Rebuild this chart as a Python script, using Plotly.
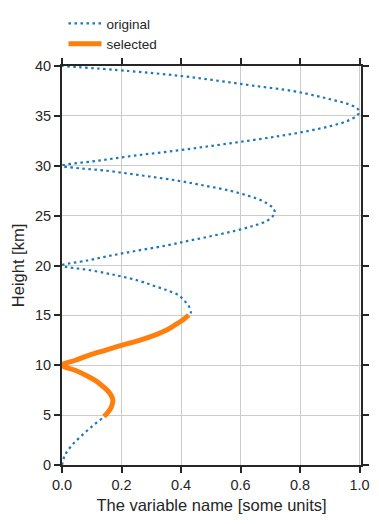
import plotly.graph_objects as go

# Height [km] and variable values
heights = [0.0, 1.0, 2.0, 3.0, 4.0, 4.85, 5.5, 6.0, 6.5, 7.0, 7.5, 8.0, 8.5, 9.0, 9.5, 10.0,
           10.5, 11.0, 11.5, 12.0, 12.5, 13.0, 13.5, 14.0, 14.5, 15.04, 15.3, 16.0, 16.5, 17.0,
           17.5, 18.0, 18.5, 19.0, 19.5, 20.0,
           20.5, 21.0, 21.5, 22.0, 22.5, 23.0, 23.5, 24.0, 24.5, 25.0, 25.4, 25.8, 26.2, 26.6,
           27.0, 27.5, 28.0, 28.5, 29.0, 29.5, 30.0,
           30.5, 31.0, 31.5, 32.0, 32.5, 33.0, 33.5, 34.0, 34.5, 35.0, 35.4, 35.8, 36.2, 36.6,
           37.0, 37.5, 38.0, 38.5, 39.0, 39.5, 40.0]
values = [0.0, 0.01, 0.034, 0.068, 0.106, 0.141, 0.160, 0.168, 0.171, 0.165, 0.152, 0.133, 0.110, 0.080, 0.044, 0.0,
          0.045, 0.09, 0.145, 0.20, 0.26, 0.31, 0.35, 0.378, 0.405, 0.426, 0.433, 0.425, 0.41, 0.393,
          0.355, 0.305, 0.255, 0.185, 0.10, 0.0,
          0.085, 0.165, 0.255, 0.35, 0.43, 0.51, 0.585, 0.645, 0.69, 0.71, 0.715, 0.708, 0.69, 0.665,
          0.625, 0.565, 0.48, 0.39, 0.275, 0.15, 0.0,
          0.12, 0.24, 0.38, 0.505, 0.625, 0.735, 0.83, 0.905, 0.96, 0.99, 1.0, 0.99, 0.96, 0.91,
          0.855, 0.775, 0.65, 0.53, 0.4, 0.225, 0.0]

# selected height window [km]
sel_low = 4.85
sel_high = 15.04

sel_h = [h for h in heights if sel_low <= h <= sel_high]
sel_v = [v for h, v in zip(heights, values) if sel_low <= h <= sel_high]

x_ticks = [0.0, 0.2, 0.4, 0.6, 0.8, 1.0]
y_ticks = [0, 5, 10, 15, 20, 25, 30, 35, 40]

dark = '#262626'
font = 'Liberation Sans, Arial, sans-serif'

fig = go.Figure()
fig.add_trace(go.Scatter(x=values, y=heights, mode='lines', name='original',
                         line=dict(color='#1f77b4', width=2.2, dash='2.5px,3.5px', shape='spline')))
fig.add_trace(go.Scatter(x=sel_v, y=sel_h, mode='lines', name='selected',
                         line=dict(color='#ff7f0e', width=5, shape='spline')))

axis_common = dict(showline=True, linewidth=2, linecolor=dark, mirror='ticks',
                   ticks='outside', ticklen=6, tickwidth=2, tickcolor=dark,
                   showgrid=True, gridcolor='#cccccc', gridwidth=1, zeroline=False,
                   automargin=False,
                   tickfont=dict(size=14.5, color=dark, family=font))

fig.update_xaxes(range=[0, 1.005], tickvals=x_ticks, tickformat='.1f',
                 title=dict(text='The variable name [some units]', font=dict(size=16.5, color=dark, family=font), standoff=7),
                 **axis_common)
fig.update_yaxes(range=[0, 40], tickvals=y_ticks,
                 title=dict(text='Height [km]', font=dict(size=16.5, color=dark, family=font), standoff=6),
                 **axis_common)

# the page body adds an 8px offset, so the figure is sized to compensate
fig.update_layout(
    width=371, height=516,
    margin=dict(l=54, r=18, t=58, b=59, autoexpand=False),
    paper_bgcolor='white', plot_bgcolor='white',
    showlegend=True,
    legend=dict(x=0.005, y=1.004, xanchor='left', yanchor='top', yref='container',
                bgcolor='rgba(0,0,0,0)', itemwidth=33,
                font=dict(size=13.5, color=dark, family=font), tracegroupgap=0),
)

fig.write_html('out.html')
